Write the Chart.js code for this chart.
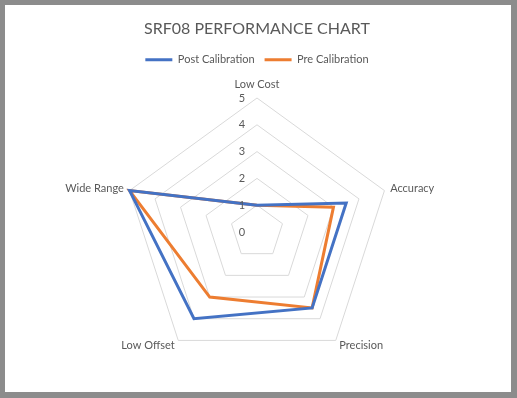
<!DOCTYPE html>
<html>
<head>
<meta charset="utf-8">
<script src="https://cdn.jsdelivr.net/npm/chart.js@4.4.1/dist/chart.umd.min.js"></script>
<style>
  html, body { margin: 0; padding: 0; background: #8c8c8c; }
  .frame {
    position: absolute; left: 5px; top: 5px;
    width: 506px; height: 387px;
    background: #fff;
  }
  canvas { display: block; }
</style>
</head>
<body>
<div class="frame">
  <canvas id="radar" width="506" height="387"></canvas>
</div>
<script>
// chart data
const categories = ['Low Cost', 'Accuracy', 'Precision', 'Low Offset', 'Wide Range'];
const postCalibration = [1, 3.5, 3.5, 4, 5];
const preCalibration = [1, 3, 3.5, 3, 5];
const tickValues = [0, 1, 2, 3, 4, 5];

const textColor = '#595959';
const fontFamily = 'Lato, "Open Sans", sans-serif';

// Excel-style labels: ticks sit left of the top axis, category names hug the outer ring
const radarLabels = {
    id: 'radarLabels',
    afterDraw(chart) {
        const scale = chart.scales.r;
        const ctx = chart.ctx;
        ctx.save();
        ctx.font = '11px ' + fontFamily;
        ctx.fillStyle = textColor;
        ctx.textBaseline = 'middle';

        ctx.textAlign = 'center';
        tickValues.forEach(v => {
            const d = scale.getDistanceFromCenterForValue(v);
            ctx.fillText(String(v), scale.xCenter - 15, scale.yCenter - d);
        });

        categories.forEach((name, i) => {
            const top = i === 0;
            const pos = scale.getPointPosition(i, scale.drawingArea + (top ? 14 : 6));
            if (top) ctx.textAlign = 'center';
            else ctx.textAlign = pos.x > scale.xCenter ? 'left' : 'right';
            ctx.fillText(name, pos.x, pos.y);
        });
        ctx.restore();
    }
};

new Chart(document.getElementById('radar').getContext('2d'), {
    type: 'radar',
    data: {
        labels: categories,
        datasets: [{
            label: 'Post Calibration',
            data: postCalibration,
            borderColor: '#4472C4',
            backgroundColor: '#4472C4',
            borderWidth: 3,
            pointRadius: 0,
            fill: false
        }, {
            label: 'Pre Calibration',
            data: preCalibration,
            borderColor: '#ED7D31',
            backgroundColor: '#ED7D31',
            borderWidth: 3,
            pointRadius: 0,
            fill: false
        }]
    },
    options: {
        responsive: false,
        animation: false,
        layout: { padding: { left: 118, right: 120, top: 0, bottom: 2 } },
        scales: {
            r: {
                min: 0,
                max: 5,
                ticks: { stepSize: 1, display: false },
                angleLines: { display: false },
                grid: { color: '#d9d9d9', lineWidth: 1 },
                pointLabels: { display: false }
            }
        },
        plugins: {
            title: {
                display: true,
                text: 'SRF08 PERFORMANCE CHART',
                color: textColor,
                font: { family: fontFamily, size: 16, weight: 'normal' },
                padding: { top: 14, bottom: 6 }
            },
            legend: {
                display: true,
                labels: {
                    color: textColor,
                    boxWidth: 27,
                    boxHeight: 3,
                    padding: 10,
                    font: { family: fontFamily, size: 11 },
                    generateLabels(chart) {
                        const items = Chart.defaults.plugins.legend.labels.generateLabels(chart);
                        items.forEach(it => { it.lineWidth = 0; });
                        return items;
                    }
                }
            },
            tooltip: { enabled: false }
        }
    },
    plugins: [radarLabels]
});
</script>
</body>
</html>
